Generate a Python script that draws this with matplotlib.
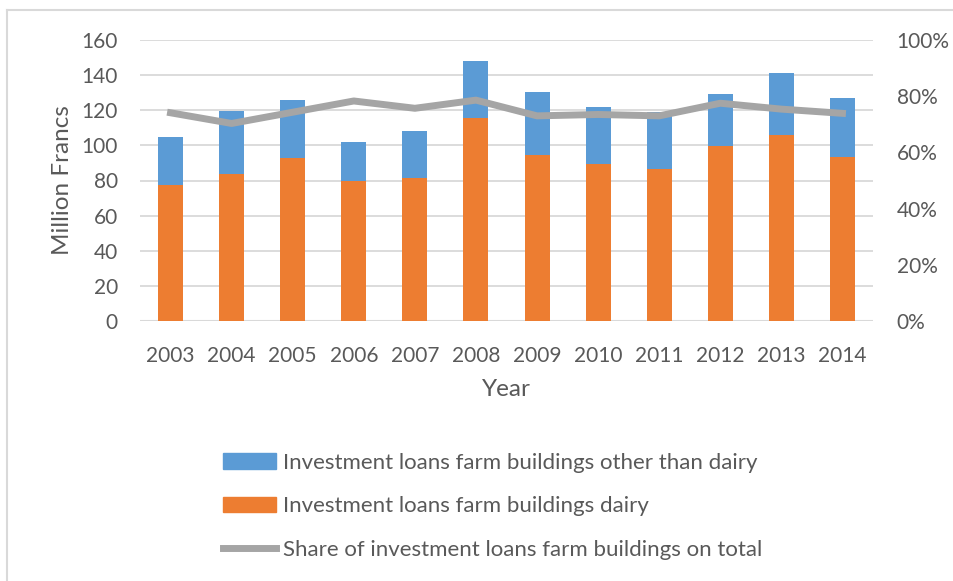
import matplotlib
matplotlib.use("Agg")
import matplotlib.pyplot as plt
from matplotlib.patches import Patch
from matplotlib.lines import Line2D
import numpy as np

plt.rcParams['font.family'] = ['Lato', 'DejaVu Sans']

years = ["2003", "2004", "2005", "2006", "2007", "2008",
         "2009", "2010", "2011", "2012", "2013", "2014"]
dairy = [77.4, 83.9, 93.0, 79.9, 81.6, 115.8, 94.5, 89.6, 86.6, 99.8, 105.9, 93.4]
other = [27.4, 35.7, 32.9, 22.0, 26.4, 32.2, 35.9, 32.4, 32.6, 29.5, 35.3, 33.5]
share = [0.741, 0.703, 0.743, 0.783, 0.757, 0.786, 0.730, 0.735, 0.730, 0.775, 0.754, 0.739]

label_other = "Investment loans farm buildings other than dairy"
label_dairy = "Investment loans farm buildings dairy"
label_share = "Share of investment loans farm buildings on total"

c_blue = "#5B9BD5"
c_orange = "#ED7D31"
c_gray = "#A5A5A5"
c_text = "#595959"
c_grid = "#D9D9D9"

W, H = 954, 581
fig = plt.figure(figsize=(W / 100, H / 100), dpi=100)

# chart frame
fig.add_artist(Line2D([7 / W, 7 / W], [0, 1 - 10 / H], color=c_grid, lw=1.5,
                      transform=fig.transFigure))
fig.add_artist(Line2D([7 / W, 1], [1 - 10 / H, 1 - 10 / H], color=c_grid, lw=1.5,
                      transform=fig.transFigure))

ax = fig.add_axes([140 / W, 1 - 321 / H, (873 - 140) / W, (321 - 40) / H])
x = np.arange(len(years))
ax.bar(x, dairy, width=0.41, color=c_orange, zorder=3)
ax.bar(x, other, width=0.41, bottom=dairy, color=c_blue, zorder=3)

ax.set_xlim(-0.5, len(years) - 0.5)
ax.set_ylim(0, 160)
ax.set_yticks(range(0, 161, 20))
ax.set_xticks(x)
ax.set_xticklabels(years)
ax.grid(axis='y', color=c_grid, lw=1.3, zorder=0)
ax.set_axisbelow(True)
for s in ax.spines.values():
    s.set_visible(False)
ax.axhline(0, color=c_grid, lw=1.5, zorder=2)
ax.tick_params(axis='both', length=0, labelsize=15, labelcolor=c_text)
ax.tick_params(axis='x', pad=18)
ax.tick_params(axis='y', pad=16)
ax.set_xlabel("Year", fontsize=17.5, color=c_text, labelpad=9)
ax.set_ylabel("Million Francs", fontsize=17.5, color=c_text, labelpad=6)

ax2 = ax.twinx()
ax2.plot(x, share, color=c_gray, lw=5, zorder=4, solid_joinstyle='round')
ax2.set_ylim(0, 1)
ax2.set_yticks(np.linspace(0, 1, 6))
ax2.set_yticklabels([f"{int(round(v * 100))}%" for v in np.linspace(0, 1, 6)])
for s in ax2.spines.values():
    s.set_visible(False)
ax2.tick_params(axis='y', length=0, labelsize=15, labelcolor=c_text, pad=17)

handles = [Patch(color=c_blue), Patch(color=c_orange),
           Line2D([], [], color=c_gray, lw=5)]
leg = fig.legend(handles, [label_other, label_dairy, label_share],
                 loc='upper left', bbox_to_anchor=(203 / W, 1 - 433 / H),
                 frameon=False, fontsize=16.0, handlelength=2.4, handleheight=0.72,
                 handletextpad=0.3, labelspacing=1.05)
for t in leg.get_texts():
    t.set_color(c_text)

fig.savefig("out.png", dpi=100, facecolor="white")
